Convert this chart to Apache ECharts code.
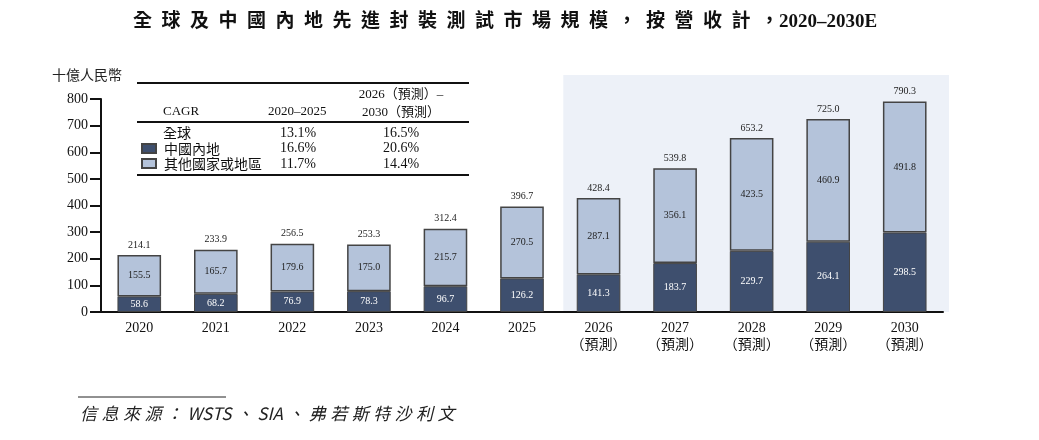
<!DOCTYPE html>
<html>
<head>
<meta charset="utf-8">
<script src="https://cdn.jsdelivr.net/npm/echarts@6/dist/echarts.min.js"></script>
<style>
  html, body { margin: 0; padding: 0; background: #fff; }
  #bar { width: 1039px; height: 440px; }
</style>
</head>
<body>
<div id="bar"></div>
<script>
// 數據
let years = ['2020','2021','2022','2023','2024','2025','2026','2027','2028','2029','2030']
let forecastFrom = '2026'
let chinaValues = [58.6,68.2,76.9,78.3,96.7,126.2,141.3,183.7,229.7,264.1,298.5]
let otherValues = [155.5,165.7,179.6,175.0,215.7,270.5,287.1,356.1,423.5,460.9,491.8]
let totalValues = [214.1,233.9,256.5,253.3,312.4,396.7,428.4,539.8,653.2,725.0,790.3]
let cagrHead = ['CAGR','2020–2025','2026（預測）–\n2030（預測）']
let cagrRows = [
  ['全球','13.1%','16.5%'],
  ['中國內地','16.6%','20.6%'],
  ['其他國家或地區','11.7%','14.4%']
]

let serif = '"Liberation Serif", "Times New Roman", "Noto Sans CJK TC", serif'
let cjk = '"Noto Sans CJK TC", "Noto Sans CJK SC", sans-serif'
let darkColor = '#3e4f6e'
let lightColor = '#b4c3da'
let edgeColor = '#444'

let chart = echarts.init(document.getElementById('bar'))

let tableTexts = []
// 表頭
tableTexts.push({type:'text', style:{x:163, y:105, text:cagrHead[0], font:'13px ' + serif, fill:'#111'}})
tableTexts.push({type:'text', style:{x:268, y:105, text:cagrHead[1], font:'13px ' + serif, fill:'#111'}})
tableTexts.push({type:'text', style:{x:401, y:86, text:cagrHead[2], font:'13px ' + serif, fill:'#111', align:'center', lineHeight:18}})
cagrRows.forEach(function(r, i){
  let y = 126 + i * 15.5
  if (i === 0) {
    tableTexts.push({type:'text', style:{x:163, y:y, text:r[0], font:'14px ' + cjk, fill:'#111'}})
  }
  tableTexts.push({type:'text', style:{x:298, y:y, text:r[1], font:'14px ' + serif, fill:'#111', align:'center'}})
  tableTexts.push({type:'text', style:{x:401, y:y, text:r[2], font:'14px ' + serif, fill:'#111', align:'center'}})
})

let gap = '\u2009\u200a'
let sourceText = ['信','息','來','源','：','WSTS','、','SIA','、','弗','若','斯','特','沙','利','文'].join(gap)

let baseGraphic = [
  {type:'line', shape:{x1:137, y1:83, x2:469, y2:83}, style:{stroke:'#111', lineWidth:2}},
  {type:'line', shape:{x1:137, y1:122, x2:469, y2:122}, style:{stroke:'#111', lineWidth:2}},
  {type:'line', shape:{x1:137, y1:175, x2:469, y2:175}, style:{stroke:'#111', lineWidth:2}},
  {type:'text', left:52, top:68, style:{text:'十億人民幣', font:'14px ' + cjk, fill:'#222'}},
  {type:'line', shape:{x1:78, y1:397, x2:226, y2:397}, style:{stroke:'#222', lineWidth:1}},
  {type:'text', left:80, top:405, style:{text:sourceText, font:'italic 17px ' + cjk, fill:'#222'}}
].concat(tableTexts)

chart.setOption({
  animation:false,
  title:{
    text:'全\u2002球\u2002及\u2002中\u2002國\u2002內\u2002地\u2002先\u2002進\u2002封\u2002裝\u2002測\u2002試\u2002市\u2002場\u2002規\u2002模\u2002，\u2002按\u2002營\u2002收\u2002計\u2002，2020–2030E',
    left:128,
    top:8,
    textStyle:{fontFamily:serif, fontWeight:'bold', fontSize:19, color:'#111'}
  },
  legend:{
    orient:'vertical',
    left:141,
    top:141,
    padding:0,
    icon:'rect',
    itemWidth:14,
    itemHeight:9,
    itemGap:0,
    data:['中國內地','其他國家或地區'],
    textStyle:{fontFamily:cjk, fontSize:14, color:'#111', lineHeight:15, padding:[0,0,0,3]}
  },
  grid:{left:101, right:96, top:99, bottom:128},
  xAxis:{
    type:'category',
    data:years,
    axisLine:{lineStyle:{color:'#111', width:2}},
    axisTick:{show:false},
    axisLabel:{
      margin:8,
      fontFamily:serif,
      fontSize:14,
      color:'#111',
      lineHeight:17,
      formatter:function(v){
        return Number(v) >= Number(forecastFrom) ? v + '\n（預測）' : v
      }
    }
  },
  yAxis:{
    type:'value',
    min:0,
    max:800,
    interval:100,
    splitLine:{show:false},
    axisLine:{show:true, lineStyle:{color:'#111', width:2}},
    axisTick:{show:true, length:11, lineStyle:{color:'#111', width:2}},
    axisLabel:{margin:13, fontFamily:serif, fontSize:14, color:'#111'}
  },
  series:[
    {
      name:'中國內地',
      type:'bar',
      stack:'all',
      barWidth:'57%',
      data:chinaValues,
      itemStyle:{color:darkColor, borderColor:edgeColor, borderWidth:1},
      label:{
        show:true, position:'inside', color:'#fff', fontFamily:serif, fontSize:10,
        formatter:function(p){ return p.value.toFixed(1) }
      }
    },
    {
      name:'其他國家或地區',
      type:'bar',
      stack:'all',
      data:otherValues,
      itemStyle:{color:lightColor, borderColor:edgeColor, borderWidth:1.5},
      label:{
        show:true, position:'inside', color:'#222', fontFamily:serif, fontSize:10,
        formatter:function(p){ return p.value.toFixed(1) }
      }
    },
    {
      name:'合計',
      type:'bar',
      stack:'all',
      data:totalValues.map(function(){ return 0 }),
      itemStyle:{color:'transparent', borderWidth:0},
      label:{
        show:true,
        position:'top',
        distance:5,
        color:'#222',
        fontFamily:serif,
        fontSize:10,
        formatter:function(p){ return totalValues[p.dataIndex].toFixed(1) }
      }
    }
  ],
  graphic:baseGraphic
})

// 預測期背景
let band = chart.convertToPixel({xAxisIndex:0}, years[1]) - chart.convertToPixel({xAxisIndex:0}, years[0])
let x0 = chart.convertToPixel({xAxisIndex:0}, forecastFrom) - band / 2 + 3
let x1 = chart.convertToPixel({xAxisIndex:0}, years[years.length - 1]) + band / 2 + 6
let yTop = chart.convertToPixel({yAxisIndex:0}, 890)
let yBot = chart.convertToPixel({yAxisIndex:0}, 0)
chart.setOption({
  graphic:baseGraphic.concat([
    {type:'rect', z:-10, silent:true, shape:{x:x0, y:yTop, width:x1 - x0, height:yBot - yTop}, style:{fill:'#edf1f8'}}
  ])
})
</script>
</body>
</html>
